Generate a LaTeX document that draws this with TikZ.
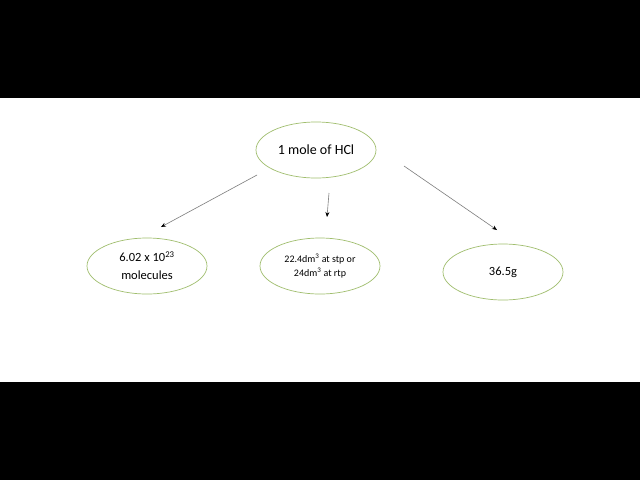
\documentclass[tikz,border=0pt]{standalone}
\usepackage{fontspec}
\setmainfont{Carlito}
\usetikzlibrary{arrows.meta,shapes.geometric,positioning}
\definecolor{ovalgreen}{RGB}{160,190,110}
\definecolor{arrowgrey}{RGB}{125,125,125}

\begin{document}
\begin{tikzpicture}[x=1pt,y=-1pt,>={Stealth[black,length=5pt,width=4pt]},
  oval/.style={ellipse,draw=ovalgreen,line width=0.7pt,minimum width=120pt,minimum height=56pt,inner sep=0pt,align=center},
  arr/.style={->,draw=arrowgrey,line width=0.6pt}]
		\fill[black] (0,0) rectangle (640,98);
		\fill[white] (0,98) rectangle (640,382);
		\fill[black] (0,382) rectangle (640,480);
		\node[oval,font=\fontsize{14}{17}\selectfont] (mole) at (316,150) {1 mole of HCl};
		\node[oval,font=\fontsize{12.5}{18}\selectfont] (molecules) at (147,266) {6.02 x 10\textsuperscript{23}\\molecules};
		\node[oval,font=\fontsize{10}{14}\selectfont] (volume) at (320,266) {22.4dm\textsuperscript{3} at stp or\\24dm\textsuperscript{3} at rtp};
		\node[oval,font=\fontsize{12.5}{15}\selectfont] (mass) at (503,272) {36.5g};
		\coordinate (s_1) at (257,175);
		\coordinate (e_1) at (161,227);
		\coordinate (s_2) at (329,193);
		\coordinate (e_2) at (327,217);
		\coordinate (s_3) at (404,166);
		\coordinate (e_3) at (497,230);
		\path
			(s_1) edge[arr] (e_1)
			(s_2) edge[arr] (e_2)
			(s_3) edge[arr] (e_3);
	\end{tikzpicture}
\end{document}
